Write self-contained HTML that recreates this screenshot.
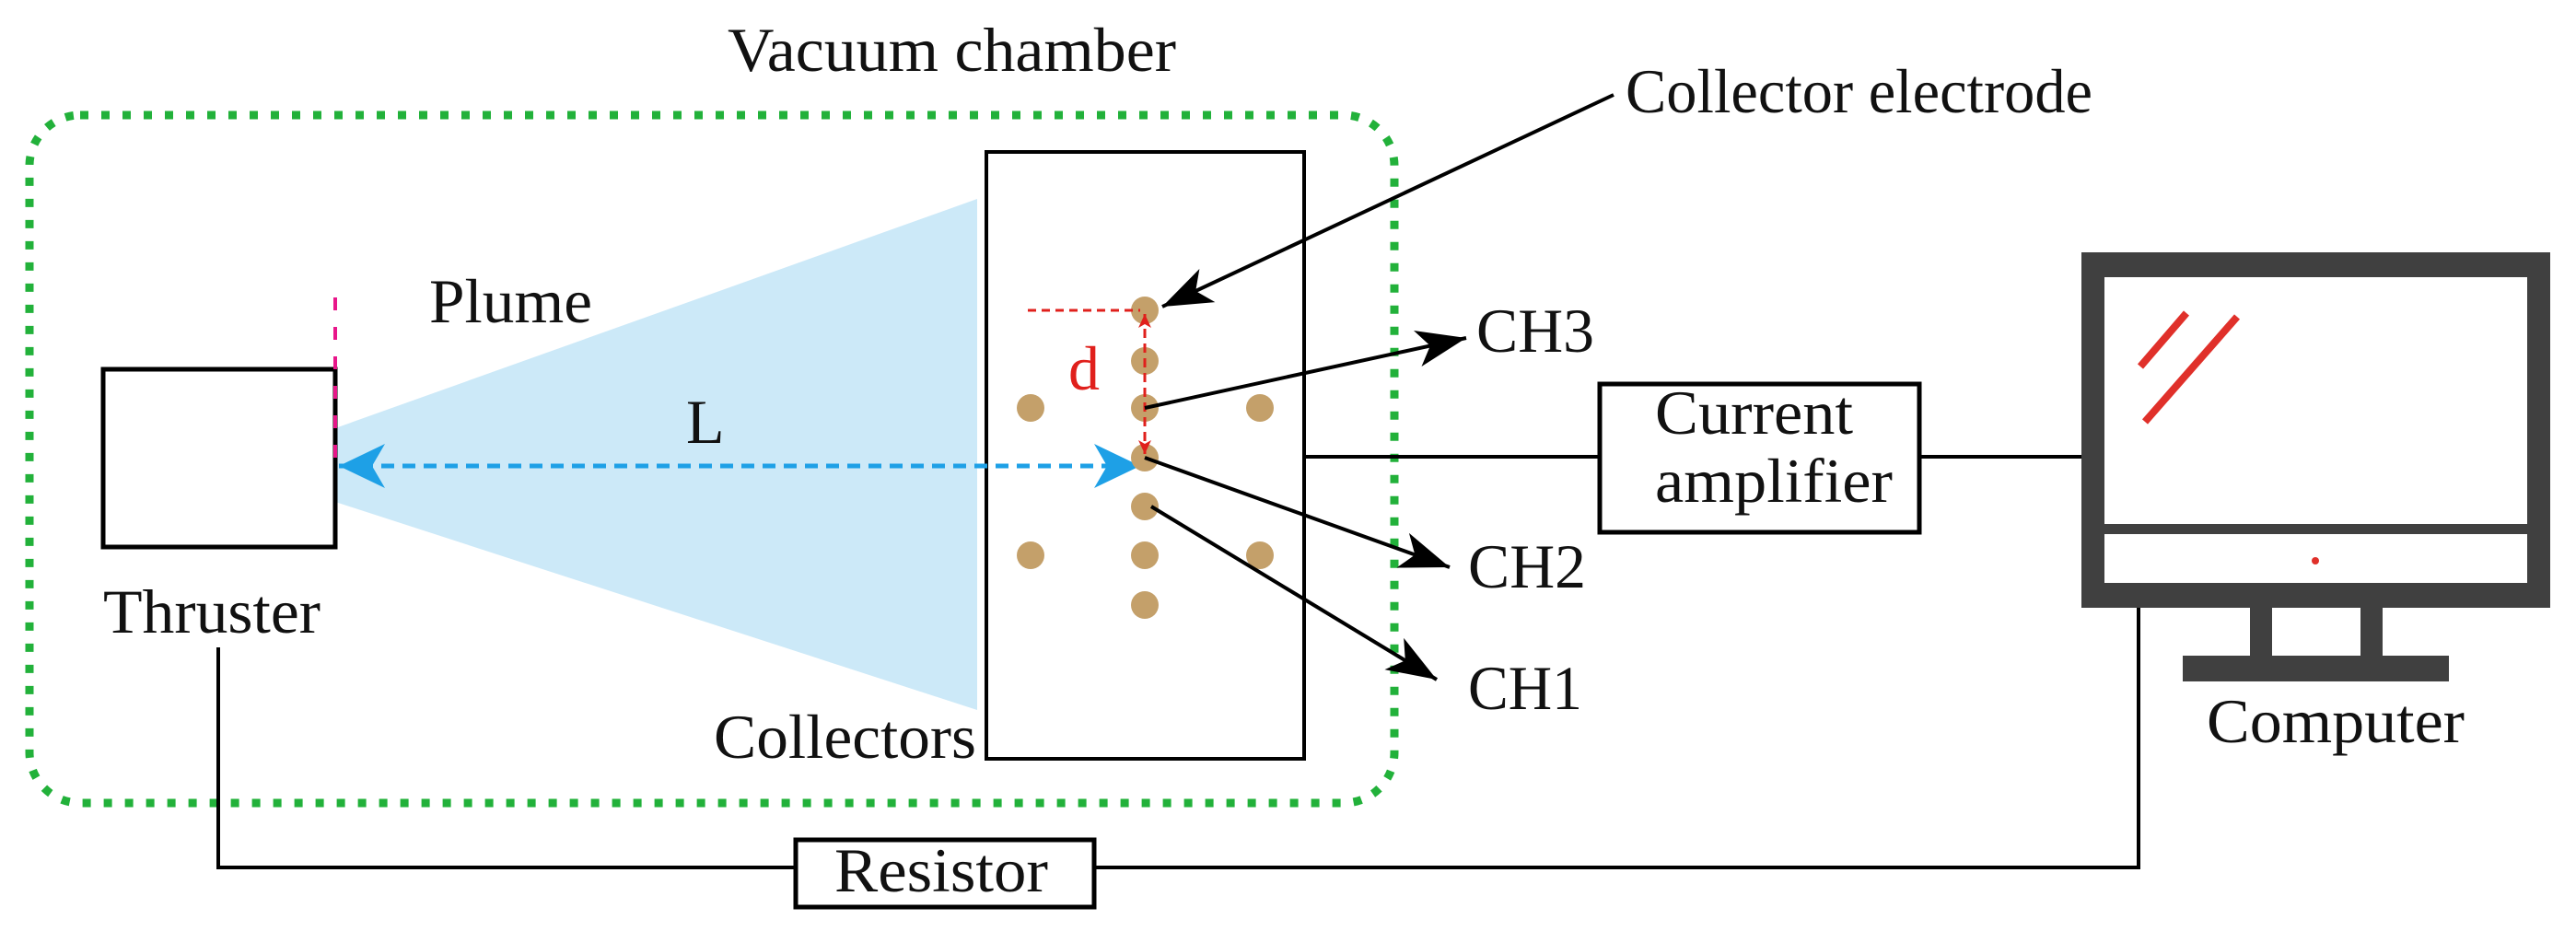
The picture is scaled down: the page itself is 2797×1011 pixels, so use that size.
<!DOCTYPE html>
<html><head><meta charset="utf-8"><style>
html,body{margin:0;padding:0;background:#fff;}
svg{display:block;}
text{font-family:"Liberation Serif",serif;font-size:68px;fill:#111;}
</style></head><body>
<svg width="2797" height="1011" viewBox="0 0 2797 1011" xmlns="http://www.w3.org/2000/svg">
<defs>
<marker id="blk" viewBox="-56 -22 58 44" markerWidth="58" markerHeight="44" refX="0" refY="0" markerUnits="userSpaceOnUse" orient="auto">
<path d="M0,0 L-54,-20 L-40,0 L-54,20 Z" fill="#000"/></marker>
<marker id="blu" viewBox="-52 -26 54 52" markerWidth="54" markerHeight="52" refX="0" refY="0" markerUnits="userSpaceOnUse" orient="auto-start-reverse">
<path d="M0,0 L-50,-24 L-36,0 L-50,24 Z" fill="#1ea0e6"/></marker>
<marker id="red" viewBox="-16 -8 18 16" markerWidth="18" markerHeight="16" refX="0" refY="0" markerUnits="userSpaceOnUse" orient="auto-start-reverse">
<path d="M0,0 L-15,-7 L-11,0 L-15,7 Z" fill="#e0201c"/></marker>
</defs>

<rect x="32" y="125" width="1482" height="747" rx="55" ry="55" fill="none" stroke="#22b13a" stroke-width="9" stroke-dasharray="9 14"/>
<text x="790" y="77" textLength="487" lengthAdjust="spacingAndGlyphs">Vacuum chamber</text>

<polygon points="364,465 1061,216 1061,771 364,545" fill="#cce9f8"/>
<text x="466" y="350" textLength="177" lengthAdjust="spacingAndGlyphs">Plume</text>

<rect x="112" y="401" width="252" height="193" fill="none" stroke="#000" stroke-width="5"/>
<line x1="364" y1="323" x2="364" y2="506" stroke="#e8168a" stroke-width="4" stroke-dasharray="14 18"/>
<text x="112" y="687" textLength="236" lengthAdjust="spacingAndGlyphs">Thruster</text>

<rect x="1071" y="165" width="345" height="659" fill="none" stroke="#000" stroke-width="4"/>
<text x="775" y="823" textLength="285" lengthAdjust="spacingAndGlyphs">Collectors</text>

<line x1="368" y1="506" x2="1238" y2="506" stroke="#1ea0e6" stroke-width="5" stroke-dasharray="14 9" marker-start="url(#blu)" marker-end="url(#blu)"/>
<text x="745" y="481">L</text>

<g fill="#c4a06a">
<circle cx="1243" cy="337" r="15"/><circle cx="1243" cy="392" r="15"/><circle cx="1243" cy="443" r="15"/>
<circle cx="1243" cy="497" r="15"/><circle cx="1243" cy="550" r="15"/><circle cx="1243" cy="603" r="15"/>
<circle cx="1243" cy="657" r="15"/>
<circle cx="1119" cy="443" r="15"/><circle cx="1368" cy="443" r="15"/>
<circle cx="1119" cy="603" r="15"/><circle cx="1368" cy="603" r="15"/>
</g>

<line x1="1116" y1="337" x2="1238" y2="337" stroke="#e0201c" stroke-width="3" stroke-dasharray="9 6"/>
<line x1="1243" y1="341" x2="1243" y2="493" stroke="#e0201c" stroke-width="3" stroke-dasharray="10 6" marker-start="url(#red)" marker-end="url(#red)"/>
<text x="1160" y="423" style="fill:#e0201c">d</text>

<line x1="1752" y1="103" x2="1262" y2="333" stroke="#000" stroke-width="4" marker-end="url(#blk)"/>
<text x="1765" y="122" textLength="507" lengthAdjust="spacingAndGlyphs">Collector electrode</text>

<line x1="1243" y1="443" x2="1592" y2="367" stroke="#000" stroke-width="4" marker-end="url(#blk)"/>
<line x1="1243" y1="497" x2="1574" y2="616" stroke="#000" stroke-width="4" marker-end="url(#blk)"/>
<line x1="1250" y1="550" x2="1560" y2="738" stroke="#000" stroke-width="4" marker-end="url(#blk)"/>
<text x="1603" y="382" textLength="128" lengthAdjust="spacingAndGlyphs">CH3</text>
<text x="1594" y="638" textLength="128" lengthAdjust="spacingAndGlyphs">CH2</text>
<text x="1594" y="770" textLength="124" lengthAdjust="spacingAndGlyphs">CH1</text>

<line x1="1416" y1="496" x2="1737" y2="496" stroke="#000" stroke-width="4"/>
<line x1="2084" y1="496" x2="2262" y2="496" stroke="#000" stroke-width="4"/>
<rect x="1737" y="417" width="347" height="161" fill="#fff" stroke="#000" stroke-width="5"/>
<text x="1797" y="471" textLength="215" lengthAdjust="spacingAndGlyphs">Current</text>
<text x="1797" y="545" textLength="258" lengthAdjust="spacingAndGlyphs">amplifier</text>

<rect x="2260" y="274" width="509" height="386" fill="#404040"/>
<rect x="2285" y="301" width="459" height="268" fill="#fff"/>
<rect x="2285" y="580" width="459" height="53" fill="#fff"/>
<rect x="2443" y="660" width="24" height="54" fill="#404040"/>
<rect x="2563" y="660" width="24" height="54" fill="#404040"/>
<rect x="2370" y="712" width="289" height="28" fill="#404040"/>
<circle cx="2514" cy="609" r="4" fill="#e0302a"/>
<line x1="2374" y1="340" x2="2324" y2="398" stroke="#e0302a" stroke-width="8"/>
<line x1="2429" y1="344" x2="2329" y2="458" stroke="#e0302a" stroke-width="8"/>
<text x="2396" y="806" textLength="280" lengthAdjust="spacingAndGlyphs">Computer</text>

<polyline points="237,703 237,942 864,942" fill="none" stroke="#000" stroke-width="4"/>
<polyline points="1188,942 2322,942 2322,660" fill="none" stroke="#000" stroke-width="4"/>
<rect x="864" y="912" width="324" height="73" fill="#fff" stroke="#000" stroke-width="5"/>
<text x="906" y="968" textLength="232" lengthAdjust="spacingAndGlyphs">Resistor</text>
</svg>
</body></html>
